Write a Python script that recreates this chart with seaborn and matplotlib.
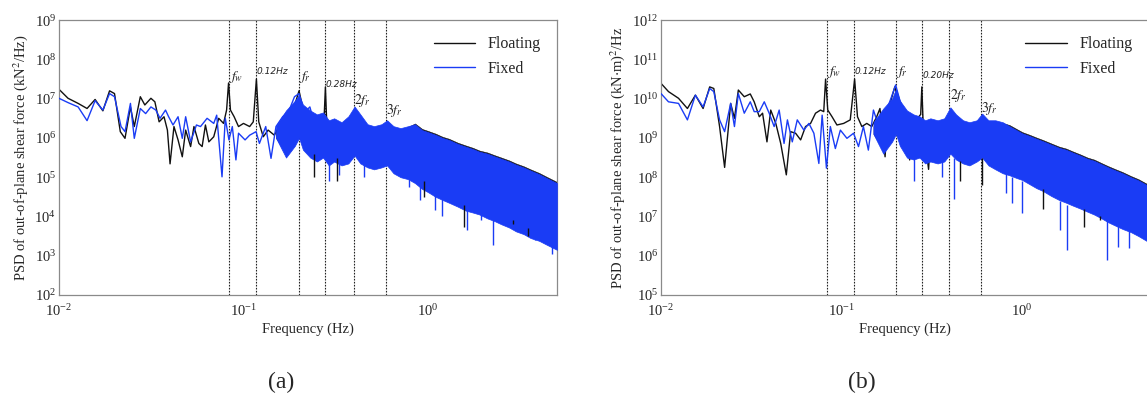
import numpy as np
import pandas as pd
import seaborn as sns
import matplotlib.pyplot as plt
from matplotlib.ticker import LogLocator, NullLocator

# ---- data (frequency in Hz, PSD as log10 values) ----
LINE_FREQS = [0.083, 0.1175, 0.2, 0.278, 0.395, 0.59]

# panel (a) floating, explicit part
a_float_f = [0.0100, 0.0112, 0.0127, 0.0142, 0.0157, 0.0173, 0.0188, 0.0200, 0.0215, 0.0228,
             0.0244, 0.0256, 0.0276, 0.0292, 0.0315, 0.0331, 0.0349, 0.0371, 0.0387, 0.0400,
             0.0420, 0.0442, 0.0466, 0.0486, 0.0517, 0.0539, 0.0573, 0.0597, 0.0622, 0.0649,
             0.0690, 0.0734, 0.0780, 0.0810, 0.0830, 0.0850, 0.0890, 0.0940, 0.1000, 0.1080,
             0.1130, 0.1175, 0.1210, 0.1280, 0.1360, 0.1470, 0.1630, 0.1730, 0.1860, 0.2000,
             0.2110, 0.2250, 0.2380, 0.2580, 0.2740, 0.2780, 0.2830, 0.3000]
a_float_log = [7.24, 7.01, 6.88, 6.75, 6.98, 6.69, 7.20, 7.13, 6.16, 5.99,
               6.79, 6.29, 7.05, 6.84, 7.01, 6.92, 6.41, 6.54, 6.20, 5.34,
               6.29, 5.95, 5.52, 6.20, 5.78, 6.29, 5.86, 5.78, 6.33, 5.90,
               6.03, 6.50, 6.37, 6.71, 7.40, 6.71, 6.54, 6.29, 6.37, 6.29,
               6.41, 7.50, 6.41, 6.03, 6.20, 6.07, 6.46, 5.90, 6.71, 7.20,
               6.71, 6.46, 5.86, 6.37, 6.60, 7.30, 6.30, 5.90]

# panel (a) fixed, explicit part
a_fixed_f = [0.0100, 0.0112, 0.0127, 0.0142, 0.0157, 0.0173, 0.0188, 0.0200, 0.0217, 0.0228,
             0.0244, 0.0256, 0.0276, 0.0295, 0.0315, 0.0335, 0.0353, 0.0378, 0.0393, 0.0415,
             0.0442, 0.0466, 0.0486, 0.0517, 0.0556, 0.0585, 0.0635, 0.0690, 0.0716, 0.0765,
             0.0797, 0.0834, 0.0870, 0.0910, 0.0940, 0.1020, 0.1080, 0.1170, 0.1220, 0.1320,
             0.1410, 0.1500, 0.1630, 0.1770, 0.1890, 0.2000, 0.2110, 0.2290, 0.2500]
a_fixed_log = [7.01, 6.90, 6.79, 6.44, 6.95, 6.71, 7.13, 7.05, 6.29, 6.16,
               6.88, 5.99, 6.75, 6.62, 6.79, 6.71, 6.50, 6.71, 6.54, 6.33,
               6.54, 5.99, 6.54, 5.90, 6.33, 6.29, 6.50, 6.37, 6.58, 5.01,
               6.50, 5.95, 6.29, 5.44, 6.12, 5.95, 6.07, 6.16, 5.86, 6.29,
               5.48, 6.29, 6.54, 6.71, 7.05, 7.13, 6.62, 6.79, 6.12]

# panel (b) floating, explicit part
b_float_f = [0.0100, 0.0110, 0.0125, 0.0140, 0.0155, 0.0171, 0.0186, 0.0196, 0.0211, 0.0225,
             0.0243, 0.0255, 0.0268, 0.0289, 0.0312, 0.0328, 0.0350, 0.0365, 0.0386, 0.0405,
             0.0432, 0.0460, 0.0494, 0.0522, 0.0556, 0.0593, 0.0631, 0.0673, 0.0717, 0.0764,
             0.0796, 0.0815, 0.0838, 0.0885, 0.0942, 0.1026, 0.1116, 0.1180, 0.1224, 0.1294,
             0.1378, 0.1468, 0.1564, 0.1630, 0.1740, 0.1810, 0.1970, 0.2100, 0.2240, 0.2380,
             0.2590, 0.2740, 0.2780, 0.2830, 0.3030, 0.3100]
b_float_log = [10.39, 10.18, 10.01, 9.75, 10.09, 9.75, 10.30, 10.26, 9.29, 8.25,
               9.88, 9.50, 10.22, 10.05, 10.12, 9.92, 9.54, 9.63, 8.90, 9.71,
               9.37, 8.86, 8.06, 9.16, 9.12, 8.95, 9.29, 9.37, 9.63, 9.71,
               9.67, 10.50, 9.71, 9.54, 9.33, 9.37, 9.46, 10.50, 9.54, 9.29,
               9.37, 9.29, 9.54, 9.75, 8.52, 9.71, 10.30, 9.80, 9.29, 8.44,
               9.46, 9.60, 10.30, 9.30, 8.20, 9.00]

# panel (b) fixed, explicit part
b_fixed_f = [0.0100, 0.0110, 0.0125, 0.0140, 0.0155, 0.0171, 0.0186, 0.0196, 0.0211, 0.0225,
             0.0243, 0.0255, 0.0268, 0.0289, 0.0312, 0.0328, 0.0350, 0.0373, 0.0397, 0.0423,
             0.0451, 0.0480, 0.0501, 0.0533, 0.0568, 0.0618, 0.0659, 0.0702, 0.0748, 0.0780,
             0.0824, 0.0866, 0.0923, 0.0984, 0.1070, 0.1164, 0.1240, 0.1320, 0.1406, 0.1500,
             0.1630, 0.1775, 0.1890, 0.1990, 0.2100, 0.2240, 0.2380, 0.2590]
b_fixed_log = [10.13, 9.92, 9.88, 9.46, 10.09, 9.79, 10.26, 10.18, 9.46, 9.16,
               9.88, 9.29, 10.13, 9.63, 9.92, 9.67, 9.67, 9.92, 9.63, 9.29,
               9.71, 8.86, 9.46, 8.90, 9.46, 9.20, 9.37, 9.12, 8.35, 9.58,
               8.23, 9.29, 8.73, 9.20, 8.99, 9.12, 8.78, 9.29, 8.69, 9.71,
               9.20, 9.71, 10.05, 10.35, 9.96, 9.63, 9.58, 9.12]

# dense high-frequency part: envelope of the band
band_f = [0.15, 0.17, 0.19, 0.20, 0.21, 0.23, 0.25, 0.27, 0.29, 0.31, 0.34, 0.37, 0.40, 0.43,
          0.47, 0.51, 0.56, 0.60, 0.65, 0.71, 0.78, 0.85, 0.93, 1.0, 1.1, 1.2, 1.3, 1.45,
          1.6, 1.75, 1.9, 2.1, 2.3, 2.5, 2.75, 3.0, 3.3, 3.6, 4.0, 4.4, 5.0]
a_fixed_hi = [6.30, 6.70, 6.95, 7.10, 6.85, 6.70, 6.60, 6.65, 6.45, 6.50, 6.40, 6.55, 6.80, 6.60,
              6.35, 6.30, 6.35, 6.45, 6.30, 6.25, 6.30, 6.35, 6.20, 6.15, 6.08, 6.00, 5.95, 5.85,
              5.78, 5.72, 5.65, 5.60, 5.53, 5.47, 5.40, 5.32, 5.25, 5.17, 5.08, 4.98, 4.85]
a_fixed_lo = [6.00, 5.50, 5.80, 6.00, 5.70, 5.50, 5.40, 5.50, 5.30, 5.40, 5.30, 5.35, 5.55, 5.35,
              5.25, 5.20, 5.25, 5.30, 5.10, 5.00, 4.95, 4.85, 4.70, 4.62, 4.50, 4.42, 4.35, 4.25,
              4.15, 4.10, 4.05, 3.95, 3.88, 3.80, 3.72, 3.62, 3.55, 3.45, 3.38, 3.28, 3.15]
a_float_hi = [6.20, 6.50, 6.80, 7.00, 6.70, 6.60, 6.50, 6.55, 6.35, 6.40, 6.30, 6.45, 6.70, 6.50,
              6.25, 6.20, 6.25, 6.35, 6.22, 6.20, 6.28, 6.37, 6.23, 6.18, 6.11, 6.03, 5.98, 5.88,
              5.81, 5.75, 5.68, 5.63, 5.56, 5.50, 5.43, 5.35, 5.28, 5.20, 5.11, 5.01, 4.88]
a_float_lo = [6.00, 5.60, 5.90, 6.05, 5.80, 5.60, 5.50, 5.60, 5.40, 5.50, 5.40, 5.45, 5.60, 5.45,
              5.35, 5.30, 5.35, 5.40, 5.20, 5.10, 5.05, 4.95, 4.80, 4.72, 4.60, 4.52, 4.45, 4.35,
              4.25, 4.20, 4.15, 4.05, 3.98, 3.90, 3.82, 3.72, 3.65, 3.55, 3.48, 3.38, 3.25]
b_fixed_hi = [9.40, 9.75, 10.00, 10.25, 9.95, 9.70, 9.60, 9.55, 9.45, 9.50, 9.45, 9.50, 9.78, 9.60,
              9.45, 9.40, 9.45, 9.62, 9.45, 9.45, 9.40, 9.30, 9.20, 9.12, 9.05, 8.98, 8.92, 8.83,
              8.75, 8.70, 8.63, 8.55, 8.47, 8.42, 8.33, 8.25, 8.17, 8.10, 8.00, 7.92, 7.78]
b_fixed_lo = [9.10, 8.60, 8.90, 9.10, 8.80, 8.50, 8.45, 8.50, 8.35, 8.40, 8.35, 8.40, 8.60, 8.45,
              8.35, 8.30, 8.40, 8.50, 8.30, 8.20, 8.10, 8.05, 7.98, 7.93, 7.82, 7.72, 7.65, 7.52,
              7.42, 7.35, 7.28, 7.20, 7.12, 7.05, 6.95, 6.85, 6.76, 6.68, 6.60, 6.50, 6.35]
b_float_hi = [9.30, 9.65, 9.90, 10.15, 9.85, 9.60, 9.50, 9.45, 9.35, 9.40, 9.35, 9.40, 9.68, 9.50,
              9.35, 9.30, 9.35, 9.52, 9.38, 9.40, 9.38, 9.33, 9.23, 9.15, 9.08, 9.01, 8.95, 8.86,
              8.78, 8.73, 8.66, 8.58, 8.50, 8.45, 8.36, 8.28, 8.20, 8.13, 8.03, 7.95, 7.81]
b_float_lo = [9.10, 8.70, 9.00, 9.15, 8.90, 8.60, 8.55, 8.60, 8.45, 8.50, 8.45, 8.50, 8.70, 8.55,
              8.45, 8.40, 8.50, 8.60, 8.40, 8.30, 8.20, 8.15, 8.08, 8.03, 7.92, 7.82, 7.75, 7.62,
              7.52, 7.45, 7.38, 7.30, 7.22, 7.15, 7.05, 6.95, 6.86, 6.78, 6.70, 6.60, 6.45]

# deep downward spikes inside the band: frequency, bottom, top (log10)
a_fixed_spk_f = [0.29, 0.33, 0.45, 0.79, 0.90, 1.09, 1.19, 1.62, 1.94, 2.25, 3.0, 3.8, 4.7]
a_fixed_spk_lo = [4.90, 5.05, 5.00, 4.75, 4.42, 4.17, 4.00, 3.66, 3.90, 3.27, 3.66, 3.40, 3.05]
a_fixed_spk_hi = [5.60, 5.60, 5.50, 5.20, 5.00, 4.80, 4.60, 4.30, 4.20, 4.00, 3.90, 3.60, 3.30]
a_float_spk_f = [0.24, 0.32, 0.95, 1.56, 2.9, 3.5]
a_float_spk_lo = [5.00, 4.90, 4.50, 3.73, 3.80, 3.50]
a_float_spk_hi = [5.60, 5.50, 4.90, 4.30, 3.90, 3.70]
b_fixed_spk_f = [0.25, 0.36, 0.42, 0.81, 0.88, 1.0, 1.61, 1.77, 2.94, 3.4, 3.9]
b_fixed_spk_lo = [7.90, 8.00, 7.45, 7.60, 7.34, 7.10, 6.66, 6.15, 5.90, 6.23, 6.20]
b_fixed_spk_hi = [8.50, 8.40, 8.50, 8.10, 8.00, 7.90, 7.40, 7.30, 6.90, 6.80, 6.70]
b_float_spk_f = [0.45, 0.60, 1.3, 2.2, 2.7]
b_float_spk_lo = [7.90, 7.80, 7.20, 6.73, 6.90]
b_float_spk_hi = [8.40, 8.50, 7.70, 7.20, 7.00]

BLACK = "#111111"
BLUE = "#1a3cf5"

sns.set_theme(style="white")
plt.rcParams["font.family"] = ["Liberation Serif", "DejaVu Serif"]
plt.rcParams["mathtext.fontset"] = "stix"


def draw_panel(ax, fl, fx, bands, spikes, ylim, ylabel, line_texts):
    (ff, fv), (xf, xv) = fl, fx
    fhi, flo, xhi, xlo = bands
    sns.lineplot(x=ff, y=10.0 ** np.array(fv), ax=ax, color=BLACK, lw=1.0,
                 label="Floating", zorder=2)
    ax.fill_between(band_f, 10.0 ** np.array(flo), 10.0 ** np.array(fhi),
                    color=BLACK, lw=0.3, zorder=2)
    sns.lineplot(x=xf, y=10.0 ** np.array(xv), ax=ax, color=BLUE, lw=1.0,
                 label="Fixed", zorder=3)
    ax.fill_between(band_f, 10.0 ** np.array(xlo), 10.0 ** np.array(xhi),
                    color=BLUE, lw=0.5, edgecolor=BLUE, zorder=3)
    for (sf, slo, shi), col, z in zip(spikes, [BLUE, BLACK], [3, 4]):
        ax.vlines(sf, 10.0 ** np.array(slo), 10.0 ** np.array(shi), color=col, lw=1.0, zorder=z)

    for f in LINE_FREQS:
        ax.axvline(f, color="#222222", lw=0.8, ls=(0, (1.5, 1.2)), zorder=1)
    for f, (txt, y, size, style) in zip(LINE_FREQS, line_texts):
        ax.text(f * 1.005, 10.0 ** y, txt, fontsize=size, fontstyle=style,
                family="DejaVu Sans", va="center", ha="left", color="#222222")

    ax.set_xscale("log")
    ax.set_yscale("log")
    ax.set_xlim(0.01, 5)
    ax.set_ylim(*ylim)
    ax.yaxis.set_major_locator(LogLocator(base=10, numticks=20))
    ax.yaxis.set_minor_locator(NullLocator())
    ax.xaxis.set_minor_locator(NullLocator())
    ax.tick_params(direction="in", length=3, width=0.7, color="#777777",
                   labelsize=10.5, pad=2)
    ax.tick_params(axis="x", pad=5.5)
    for s in ax.spines.values():
        s.set_color("#8a8a8a")
        s.set_linewidth(0.9)
    ax.set_xlabel("Frequency (Hz)", fontsize=10.5, labelpad=3)
    ax.set_ylabel(ylabel, fontsize=10.5, labelpad=3)
    ax.legend(loc="upper right", frameon=False, fontsize=11.5, handlelength=2.6,
              labelspacing=0.55, borderaxespad=0.6)


fig = plt.figure(figsize=(11.47, 4.03), dpi=100)
ax_a = fig.add_axes([0.0514, 0.268, 0.4342, 0.682])
ax_b = fig.add_axes([0.5763, 0.268, 0.4250, 0.682])

draw_panel(ax_a, (a_float_f, a_float_log), (a_fixed_f, a_fixed_log),
           (a_float_hi, a_float_lo, a_fixed_hi, a_fixed_lo),
           [(a_fixed_spk_f, a_fixed_spk_lo, a_fixed_spk_hi),
            (a_float_spk_f, a_float_spk_lo, a_float_spk_hi)],
           (1e2, 1e9), "PSD of out-of-plane shear force (kN$^2$/Hz)",
           [("$f_w$", 7.55, 10, "normal"), ("0.12Hz", 7.68, 6.5, "italic"),
            ("$f_r$", 7.55, 10, "normal"), ("0.28Hz", 7.37, 6.5, "italic"),
            ("$2f_r$", 6.96, 10, "normal"), ("$3f_r$", 6.70, 10, "normal")])

draw_panel(ax_b, (b_float_f, b_float_log), (b_fixed_f, b_fixed_log),
           (b_float_hi, b_float_lo, b_fixed_hi, b_fixed_lo),
           [(b_fixed_spk_f, b_fixed_spk_lo, b_fixed_spk_hi),
            (b_float_spk_f, b_float_spk_lo, b_float_spk_hi)],
           (1e5, 1e12), "PSD of out-of-plane shear force (kN$\\cdot$m)$^2$/Hz",
           [("$f_w$", 10.68, 10, "normal"), ("0.12Hz", 10.68, 6.5, "italic"),
            ("$f_r$", 10.68, 10, "normal"), ("0.20Hz", 10.60, 6.5, "italic"),
            ("$2f_r$", 10.09, 10, "normal"), ("$3f_r$", 9.76, 10, "normal")])

fig.text(0.245, 0.05, "(a)", fontsize=17, ha="center", va="center")
fig.text(0.7515, 0.05, "(b)", fontsize=17, ha="center", va="center")

fig.savefig("out.png", dpi=100, facecolor="white")
